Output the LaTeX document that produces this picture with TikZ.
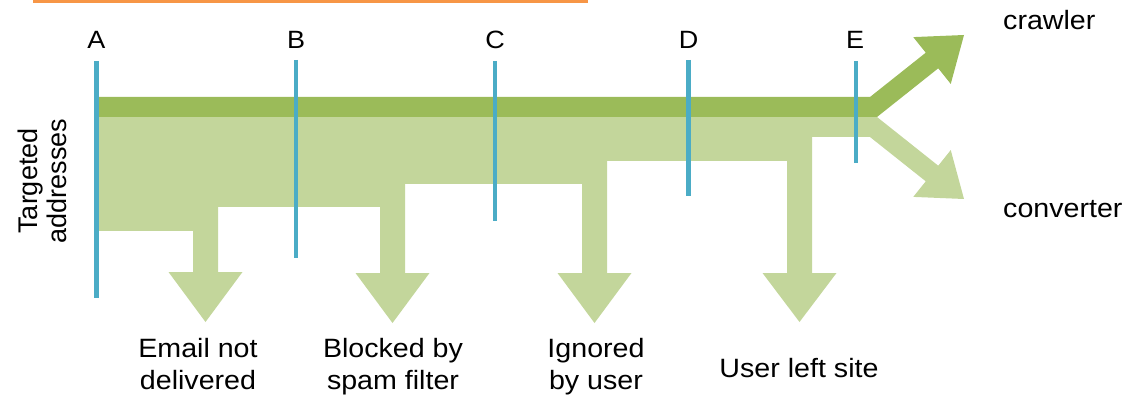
\documentclass[tikz,border=0pt]{standalone}
\usepackage{fontspec}
\setmainfont{Liberation Sans}
\newfontfamily\labelfont[FakeStretch=1.08]{Liberation Sans}
\definecolor{darkgreen}{HTML}{9BBB59}
\definecolor{lightgreen}{HTML}{C3D69B}
\definecolor{markteal}{HTML}{4BACC6}
\definecolor{orangeline}{HTML}{F79646}
\begin{document}
\begin{tikzpicture}[x=1pt,y=-1pt,
  lbl/.style={font=\labelfont\fontsize{26.5}{32}\selectfont, text=black, inner sep=0pt, align=center},
  letter/.style={font=\labelfont\fontsize{25}{28}\selectfont, text=black, inner sep=0pt, anchor=base},
  marker/.style={draw=markteal, line width=4.5pt},
  flowlight/.style={fill=lightgreen, draw=none},
  flowdark/.style={fill=darkgreen, draw=none}]
\useasboundingbox (0,0) rectangle (1134,403);
% orange rule at top
\fill[orangeline] (33,0) rectangle (588,3);
% light flow with four drop-off arrows and converter arrow
\path[flowlight] (99,117) -- (877,117) -- (938.25,165.7) -- (950.75,150.1) -- (964,199)
  -- (913.25,196.9) -- (925.75,181.3) -- (870,137) -- (812,137)
  -- (812,273) -- (836.5,273) -- (799.5,322) -- (762.5,273) -- (787,273) -- (787,161)
  -- (607,161) -- (607,273) -- (631.5,273) -- (594.5,323) -- (557.5,273) -- (582,273) -- (582,184)
  -- (405,184) -- (405,273) -- (429.5,273) -- (392.5,323) -- (355.5,273) -- (380,273) -- (380,207)
  -- (218,207) -- (218,272) -- (242.5,272) -- (205.5,322) -- (168.5,272) -- (193,272) -- (193,231)
  -- (99,231) -- cycle;
% dark flow with crawler arrow
\path[flowdark] (99,97) -- (870,97) -- (925.75,52.7) -- (913.25,37.1) -- (964,35)
  -- (950.75,83.9) -- (938.25,68.3) -- (877,117) -- (99,117) -- cycle;
% markers
\coordinate (Atop) at (96.5,61);  \coordinate (Abot) at (96.5,298);
\coordinate (Btop) at (296,60);   \coordinate (Bbot) at (296,258);
\coordinate (Ctop) at (495,61);   \coordinate (Cbot) at (495,221);
\coordinate (Dtop) at (688.5,60); \coordinate (Dbot) at (688.5,196);
\coordinate (Etop) at (856,61);   \coordinate (Ebot) at (856,163);
\draw[marker] (Atop) -- (Abot);
\draw[marker] (Btop) -- (Bbot);
\draw[marker] (Ctop) -- (Cbot);
\draw[marker] (Dtop) -- (Dbot);
\draw[marker] (Etop) -- (Ebot);
\node[letter] (Alab) at (96.5,49) {A};
\node[letter] (Blab) at (296,49) {B};
\node[letter] (Clab) at (495,49) {C};
\node[letter] (Dlab) at (688.5,49) {D};
\node[letter] (Elab) at (855,49) {E};
% labels
\node[lbl] (email) at (198,364.5) {Email not\\delivered};
\node[lbl] (spam) at (393,367) {Blocked by\\spam filter};
\node[lbl] (ignored) at (596,367) {Ignored\\by user};
\node[lbl, anchor=base] (left) at (799,377) {User left site};
\node[lbl, anchor=base west] (crawler) at (1003,30) {crawler};
\node[lbl, anchor=base west] (converter) at (1003,218) {converter};
\node[lbl, rotate=90, font=\fontsize{27}{29}\selectfont] (targeted) at (42,181) {Targeted\\addresses};
\end{tikzpicture}
\end{document}
